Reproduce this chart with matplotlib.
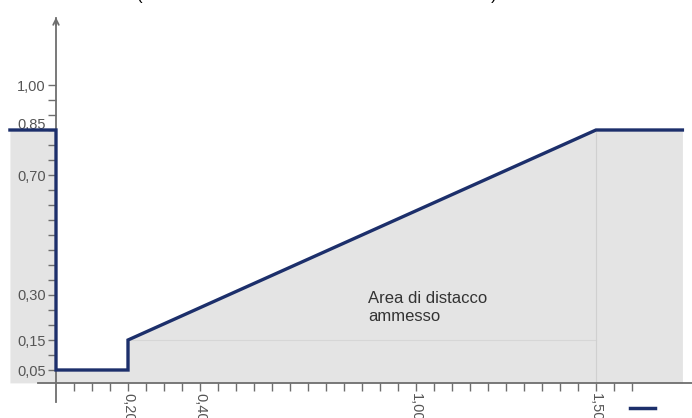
import numpy as np
import matplotlib.pyplot as plt
import matplotlib.transforms as mtransforms
from matplotlib.lines import Line2D

plt.rcParams['font.family'] = ['Liberation Sans', 'DejaVu Sans']

# limit curve: coefficient vs distance
curve_x = [-0.128, 0.0, 0.0, 0.20, 0.20, 1.50, 1.74]
curve_y = [0.85, 0.85, 0.05, 0.05, 0.15, 0.85, 0.85]

ytick_vals = np.round(np.arange(0.05, 1.001, 0.05), 2)
ytick_shown = [0.05, 0.15, 0.30, 0.70, 0.85, 1.00]
xtick_vals = np.round(np.arange(0.05, 1.601, 0.05), 2)
xtick_shown = [0.20, 0.40, 1.00, 1.50]

area_label = "Area di distacco\nammesso"

navy = "#1c2f6b"
axis_gray = "#6e6e6e"
fill_gray = "#e4e4e4"
base = 0.007

fig = plt.figure(figsize=(6.92, 4.18), dpi=100)
ax = fig.add_axes([0, 0, 1, 1])
ax.set_xlim(-56 / 360, (692 - 56) / 360)
ax.set_ylim(0.05 - 48 / 300, 0.05 + 370 / 300)

# shaded admissible area
ax.fill_between(curve_x, curve_y, base, color=fill_gray, lw=0, zorder=1)
ax.plot([0.20, 1.50], [0.15, 0.15], color="#d6d6d6", lw=0.8, zorder=2)
ax.plot([1.50, 1.50], [base, 0.85], color="#d0d0d0", lw=0.8, zorder=2)

ax.plot(curve_x, curve_y, color=navy, lw=2.4, solid_joinstyle="miter", zorder=4)

ax.text(0.867, 0.312, area_label, fontsize=12, color="#333333",
        va="top", ha="left", linespacing=1.25, zorder=5)

# axes drawn as crossing spines
for s in ["top", "right"]:
    ax.spines[s].set_visible(False)
ax.spines["left"].set_position(("data", 0))
ax.spines["bottom"].set_position(("data", base))
ax.spines["left"].set_bounds(-0.057, 1.223)
ax.spines["bottom"].set_bounds(-0.05, 1.77)
for s in ["left", "bottom"]:
    ax.spines[s].set_color(axis_gray)
    ax.spines[s].set_linewidth(1.3)
    ax.spines[s].set_zorder(3)
ax.annotate("", xy=(0, 1.235), xytext=(0, 1.19),
            arrowprops=dict(arrowstyle="->", color=axis_gray, lw=1.3,
                            mutation_scale=10))

ax.set_yticks(ytick_vals)
ax.set_yticklabels([f"{v:.2f}".replace(".", ",") if v in ytick_shown else ""
                    for v in ytick_vals])
ax.set_xticks(xtick_vals)
ax.set_xticklabels([f"{v:.2f}".replace(".", ",") if v in xtick_shown else ""
                    for v in xtick_vals], rotation=270)
ax.tick_params(axis="y", length=6, width=1, color=axis_gray, pad=1.5,
               labelsize=10.5, labelcolor="#555555")
ax.tick_params(axis="x", length=6, width=1, color=axis_gray, pad=1,
               labelsize=10.5, labelcolor="#555555")

# lift the 0,85 label above the curve, as in the original
for lab in ax.get_yticklabels():
    if lab.get_text() == "0,85":
        lab.set_transform(lab.get_transform() +
                          mtransforms.ScaledTranslation(0, 7 / 100, fig.dpi_scale_trans))

# clipped heading fragments at the top edge
for px, txt in [(140, "("), (298, "CMAX"), (470, "CMAX)"), (685, "CMAX")]:
    fig.text(px / 692, 1 - 3 / 418, txt, fontsize=12, color="black",
             ha="center", va="bottom")

# legend key
fig.add_artist(Line2D([630 / 692, 655 / 692], [1 - 408 / 418] * 2,
                      color=navy, lw=2.5))

fig.savefig("out.png", dpi=100)
